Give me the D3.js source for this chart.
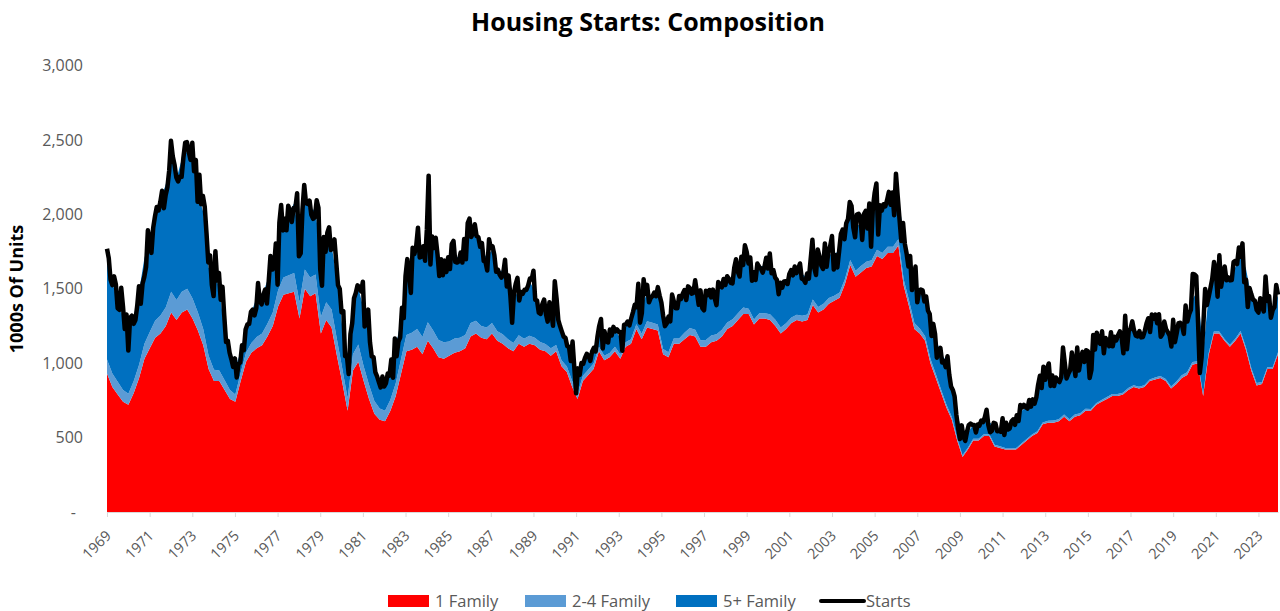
<!DOCTYPE html>
<html>

<head>
  <meta charset="UTF-8">
  <title>Housing Starts: Composition</title>
  <style type="text/css">
    body {
      margin: 0;
      background: #fff;
    }

    text {
      font-family: "Open Sans", "Liberation Sans", sans-serif;
    }

    .starts {
      fill: none;
      stroke: #000;
      stroke-width: 4.5px;
      stroke-linejoin: round;
    }
  </style>
</head>

<body>
  <div class="chart"></div>
  <script src="https://cdn.jsdelivr.net/npm/d3@7/dist/d3.min.js"></script>
  <script type="text/javascript">
    // total starts, monthly, Jan 1969 - Dec 2023 (thousands, SAAR)
    var starts = [
      1769, 1705, 1561, 1524, 1583, 1528, 1368, 1358, 1507, 1381, 1229, 1327,
      1085, 1305, 1319, 1264, 1290, 1385, 1517, 1399, 1534, 1580, 1647, 1893,
      1828, 1741, 1910, 1986, 2049, 2026, 2083, 2158, 2041, 2128, 2182, 2295,
      2494, 2390, 2334, 2249, 2221, 2254, 2252, 2382, 2481, 2485, 2421, 2366,
      2481, 2289, 2365, 2084, 2266, 2067, 2123, 2051, 1874, 1677, 1724, 1526,
      1451, 1752, 1555, 1607, 1426, 1513, 1316, 1142, 1150, 1070, 1026, 975,
      1032, 904, 993, 1005, 1121, 1087, 1226, 1260, 1264, 1344, 1360, 1321,
      1367, 1538, 1421, 1395, 1459, 1495, 1401, 1550, 1720, 1629, 1641, 1804,
      1527, 1943, 2063, 1892, 1971, 1893, 2058, 2020, 1949, 2042, 2042, 2142,
      1718, 1738, 2032, 2197, 2075, 2070, 2092, 1996, 1970, 1981, 2094, 2044,
      1630, 1520, 1847, 1748, 1876, 1913, 1760, 1778, 1832, 1681, 1524, 1498,
      1341, 1350, 1047, 1051, 927, 1196, 1269, 1436, 1471, 1523, 1510, 1482,
      1547, 1246, 1306, 1360, 1140, 1045, 1041, 940, 911, 873, 837, 910,
      843, 866, 931, 917, 1025, 902, 1166, 1046, 1144, 1173, 1372, 1303,
      1586, 1699, 1606, 1472, 1776, 1733, 1785, 1910, 1710, 1715, 1785, 1688,
      1897, 2260, 1663, 1851, 1774, 1843, 1732, 1586, 1698, 1590, 1689, 1612,
      1711, 1632, 1800, 1821, 1680, 1676, 1684, 1743, 1676, 1834, 1698, 1942,
      1972, 1848, 1876, 1933, 1854, 1847, 1782, 1807, 1687, 1681, 1623, 1833,
      1774, 1784, 1726, 1614, 1628, 1594, 1575, 1605, 1695, 1515, 1589, 1454,
      1271, 1473, 1532, 1573, 1421, 1478, 1467, 1493, 1492, 1522, 1569, 1563,
      1621, 1425, 1422, 1339, 1331, 1397, 1427, 1332, 1279, 1410, 1351, 1251,
      1551, 1437, 1289, 1248, 1212, 1177, 1171, 1115, 1110, 1014, 1145, 969,
      798, 965, 921, 1001, 996, 1036, 1063, 1049, 1015, 1079, 1103, 1079,
      1176, 1250, 1297, 1099, 1214, 1145, 1139, 1226, 1186, 1244, 1214, 1227,
      1210, 1210, 1083, 1258, 1260, 1280, 1254, 1300, 1343, 1392, 1376, 1533,
      1272, 1337, 1564, 1465, 1526, 1409, 1439, 1450, 1474, 1450, 1511, 1455,
      1407, 1316, 1249, 1267, 1314, 1281, 1461, 1416, 1369, 1369, 1452, 1431,
      1467, 1491, 1424, 1516, 1504, 1467, 1472, 1557, 1475, 1392, 1489, 1370,
      1355, 1486, 1457, 1492, 1442, 1494, 1437, 1390, 1546, 1520, 1510, 1566,
      1525, 1584, 1567, 1540, 1536, 1641, 1698, 1614, 1582, 1715, 1660, 1792,
      1748, 1670, 1710, 1553, 1611, 1559, 1669, 1648, 1635, 1608, 1648, 1708,
      1636, 1737, 1604, 1626, 1575, 1559, 1463, 1541, 1507, 1549, 1551, 1532,
      1600, 1625, 1590, 1649, 1605, 1636, 1670, 1567, 1562, 1540, 1602, 1568,
      1698, 1829, 1642, 1592, 1764, 1717, 1655, 1633, 1804, 1648, 1753, 1788,
      1854, 1629, 1726, 1643, 1751, 1867, 1897, 1833, 1939, 1967, 2083, 2057,
      1911, 1846, 1998, 2003, 1981, 1828, 2002, 2024, 1905, 2072, 1782, 2042,
      2144, 2207, 1864, 2061, 2025, 2068, 2054, 2095, 2151, 2065, 2147, 1994,
      2273, 2119, 1969, 1821, 1942, 1802, 1737, 1650, 1720, 1491, 1570, 1649,
      1409, 1480, 1495, 1490, 1415, 1448, 1354, 1330, 1183, 1264, 1197, 1037,
      1084, 1103, 1005, 1013, 973, 1046, 923, 844, 820, 777, 652, 560,
      490, 582, 505, 478, 540, 585, 594, 586, 585, 534, 588, 581,
      614, 604, 636, 687, 583, 536, 546, 599, 594, 543, 545, 539,
      630, 517, 600, 554, 561, 608, 623, 585, 650, 611, 719, 703,
      720, 704, 695, 753, 708, 757, 728, 770, 854, 915, 833, 976,
      888, 962, 998, 847, 917, 847, 904, 883, 873, 905, 1105, 1003,
      897, 928, 953, 1071, 1001, 914, 1105, 951, 1031, 1076, 1008, 1087,
      1080, 900, 954, 1190, 1091, 1205, 1146, 1130, 1214, 1066, 1169, 1148,
      1114, 1208, 1113, 1177, 1153, 1188, 1214, 1172, 1066, 1318, 1094, 1216,
      1233, 1281, 1219, 1185, 1180, 1215, 1173, 1176, 1216, 1266, 1302, 1210,
      1327, 1299, 1326, 1268, 1329, 1177, 1196, 1280, 1229, 1209, 1187, 1112,
      1291, 1141, 1203, 1269, 1271, 1255, 1197, 1387, 1280, 1329, 1359, 1599,
      1596, 1585, 1275, 934, 1038, 1263, 1499, 1390, 1446, 1506, 1568, 1680,
      1625, 1447, 1725, 1514, 1594, 1650, 1557, 1576, 1556, 1559, 1679, 1688,
      1666, 1777, 1716, 1805, 1543, 1561, 1377, 1505, 1463, 1426, 1419, 1357,
      1340, 1436, 1380, 1348, 1583, 1418, 1451, 1305, 1356, 1376, 1525, 1460
    ];

    // components, quarterly, 1969Q1 - 2023Q4
    var oneFamily = [
      930, 840, 790, 740, 720, 800, 900, 1030, 1100, 1170, 1200, 1250,
      1340, 1290, 1340, 1360, 1300, 1220, 1120, 960, 880, 880, 820, 760,
      740, 880, 1010, 1070, 1100, 1120, 1180, 1250, 1380, 1460, 1470, 1480,
      1300, 1500, 1450, 1470, 1200, 1290, 1240, 1050, 870, 680, 950, 1010,
      880, 760, 660, 620, 610, 680, 780, 930, 1080, 1090, 1110, 1060,
      1150, 1100, 1040, 1030, 1050, 1070, 1080, 1100, 1180, 1200, 1170, 1160,
      1200, 1150, 1130, 1100, 1080, 1130, 1110, 1130, 1120, 1090, 1080, 1050,
      1080, 980, 940, 840, 760, 880, 920, 960, 1080, 1020, 1040, 1080,
      1030, 1110, 1130, 1230, 1160, 1240, 1230, 1220, 1060, 1040, 1130, 1130,
      1160, 1190, 1180, 1110, 1110, 1140, 1150, 1180, 1230, 1250, 1290, 1330,
      1330, 1260, 1300, 1300, 1290, 1250, 1200, 1230, 1270, 1290, 1280, 1290,
      1390, 1340, 1360, 1400, 1420, 1440, 1530, 1660, 1580, 1610, 1640, 1650,
      1720, 1700, 1740, 1740, 1790, 1520, 1380, 1230, 1200, 1150, 1000, 900,
      800, 700, 620, 480, 370, 420, 480, 480, 510, 510, 440, 430,
      420, 420, 420, 450, 480, 510, 530, 590, 600, 600, 610, 640,
      610, 640, 650, 680, 680, 720, 740, 760, 780, 780, 790, 820,
      840, 830, 840, 880, 890, 900, 880, 830, 860, 900, 920, 990,
      1000, 780, 1050, 1200, 1200, 1150, 1110, 1150, 1200, 1090, 950, 850,
      860, 960, 960, 1060
    ];
    var twoToFour = [
      95, 90, 85, 80, 75, 80, 90, 100, 110, 115, 120, 125,
      140, 135, 140, 140, 135, 120, 110, 90, 75, 70, 65, 60,
      50, 55, 60, 65, 75, 80, 85, 90, 110, 115, 120, 125,
      110, 130, 125, 125, 110, 120, 120, 110, 95, 85, 110, 115,
      100, 95, 85, 75, 70, 75, 85, 100, 110, 115, 120, 115,
      125, 120, 115, 110, 95, 95, 90, 90, 90, 85, 80, 80,
      70, 65, 65, 60, 55, 57, 54, 55, 50, 52, 49, 50,
      42, 40, 38, 40, 34, 36, 35, 37, 31, 30, 29, 30,
      29, 31, 30, 32, 38, 41, 42, 40, 36, 34, 35, 35,
      44, 46, 45, 44, 45, 46, 44, 45, 43, 45, 46, 44,
      36, 34, 35, 35, 39, 41, 40, 38, 37, 36, 38, 37,
      38, 37, 39, 38, 33, 35, 34, 34, 41, 43, 42, 42,
      42, 41, 43, 42, 43, 42, 41, 40, 33, 31, 30, 28,
      22, 20, 19, 17, 12, 11, 12, 12, 12, 13, 12, 11,
      10, 10, 9, 11, 11, 11, 12, 11, 13, 14, 14, 15,
      14, 15, 13, 14, 12, 11, 12, 12, 12, 12, 11, 13,
      11, 11, 12, 11, 13, 13, 14, 13, 17, 18, 19, 18,
      13, 11, 12, 13, 13, 12, 13, 14, 16, 17, 18, 17,
      14, 13, 12, 13
    ];
    var fivePlus = [
      653, 615, 536, 492, 441, 433, 493, 577, 616, 735, 774, 827,
      926, 816, 892, 924, 943, 799, 786, 592, 631, 565, 318, 204,
      186, 136, 180, 207, 267, 250, 292, 351, 354, 344, 419, 470,
      419, 484, 444, 445, 356, 436, 430, 408, 281, 293, 332, 380,
      386, 327, 219, 178, 200, 193, 254, 253, 440, 455, 572, 554,
      665, 603, 517, 490, 569, 561, 531, 635, 629, 593, 509, 472,
      491, 397, 430, 359, 290, 306, 319, 366, 319, 216, 216, 237,
      306, 192, 152, 163, 100, 96, 87, 92, 131, 103, 114, 118,
      108, 126, 139, 174, 191, 187, 184, 212, 229, 212, 250, 252,
      256, 261, 276, 262, 278, 291, 263, 307, 284, 277, 296, 347,
      344, 279, 316, 320, 329, 297, 264, 274, 298, 303, 283, 243,
      295, 313, 299, 292, 282, 280, 326, 342, 296, 285, 295, 273,
      310, 309, 318, 287, 288, 293, 280, 298, 231, 271, 259, 236,
      244, 291, 222, 163, 144, 102, 96, 76, 96, 80, 128, 100,
      152, 144, 189, 218, 215, 218, 243, 307, 335, 256, 263, 350,
      302, 341, 365, 363, 286, 430, 411, 356, 353, 381, 349, 377,
      393, 352, 337, 368, 414, 345, 342, 326, 334, 347, 350, 421,
      473, 286, 383, 373, 386, 423, 440, 479, 503, 529, 481, 534,
      512, 477, 398, 381
    ];

    var tickYears = [1969, 1971, 1973, 1975, 1977, 1979, 1981, 1983, 1985, 1987,
      1989, 1991, 1993, 1995, 1997, 1999, 2001, 2003, 2005, 2007, 2009,
      2011, 2013, 2015, 2017, 2019, 2021, 2023];
    var yTicks = [0, 500, 1000, 1500, 2000, 2500, 3000];

    var seriesNames = ["1 Family", "2-4 Family", "5+ Family"];
    var colors = ["#ff0000", "#5b9bd5", "#0070c0"];

    var width = 1280,
      height = 611,
      firstYear = 1969;

    var x = d3.scaleLinear()
      .domain([0, starts.length - 1])
      .range([107, 1278]);
    // quarterly points spread across the same span
    var xq = d3.scaleLinear()
      .domain([0, oneFamily.length - 1])
      .range(x.range());
    var y = d3.scaleLinear()
      .domain([0, 3000])
      .range([512, 65.5]);

    var svg = d3.select(".chart").append("svg")
      .attr("width", width)
      .attr("height", height);

    var rows = oneFamily.map(function (d, i) {
      return { q: i, one: d, two: twoToFour[i], five: fivePlus[i] };
    });
    var layers = d3.stack().keys(["one", "two", "five"])(rows);

    var area = d3.area()
      .x(function (d) { return xq(d.data.q); })
      .y0(function (d) { return y(d[0]); })
      .y1(function (d) { return y(d[1]); });

    svg.selectAll(".layer")
      .data(layers)
      .enter().append("path")
      .attr("class", "layer")
      .attr("fill", function (d, i) { return colors[i]; })
      .attr("d", area);

    var line = d3.line()
      .x(function (d, i) { return x(i); })
      .y(function (d) { return y(d); });

    svg.append("path")
      .datum(starts)
      .attr("class", "starts")
      .attr("d", line);

    // x axis
    var xAxis = d3.axisBottom(x)
      .tickValues(tickYears.map(function (yr) { return (yr - firstYear) * 12; }))
      .tickFormat(function (d) { return firstYear + d / 12; })
      .tickSize(5)
      .tickSizeOuter(0);

    var gx = svg.append("g")
      .attr("transform", "translate(0,512)")
      .call(xAxis);
    gx.select(".domain").attr("stroke", "#d9d9d9");
    gx.selectAll(".tick line").attr("stroke", "#d9d9d9");
    gx.selectAll(".tick text")
      .attr("x", 1)
      .attr("y", 21)
      .attr("dy", "0.35em")
      .attr("transform", "rotate(-45 1 21)")
      .attr("text-anchor", "end")
      .attr("fill", "#595959")
      .style("font-size", "14.5px");

    // y axis
    var yAxis = d3.axisLeft(y)
      .tickValues(yTicks)
      .tickFormat(function (d) { return d === 0 ? "-" : d3.format(",")(d); })
      .tickSize(0)
      .tickPadding(7);

    var gy = svg.append("g")
      .attr("transform", "translate(90,0)")
      .call(yAxis);
    gy.select(".domain").remove();
    gy.selectAll(".tick text")
      .attr("fill", "#595959")
      .style("font-size", "16px");
    gy.selectAll(".tick text")
      .filter(function (d) { return d === 0; })
      .attr("dx", "-7");

    svg.append("text")
      .attr("transform", "translate(23,289) rotate(-90)")
      .attr("text-anchor", "middle")
      .style("font-size", "18px")
      .style("font-weight", "bold")
      .text("1000s Of Units");

    svg.append("text")
      .attr("x", 648)
      .attr("y", 31)
      .attr("text-anchor", "middle")
      .style("font-size", "25px")
      .style("font-weight", "bold")
      .text("Housing Starts: Composition");

    // legend
    var legendX = [388, 525, 676];
    var legend = svg.append("g");
    seriesNames.forEach(function (name, i) {
      legend.append("rect")
        .attr("x", legendX[i])
        .attr("y", 595)
        .attr("width", 41)
        .attr("height", 12)
        .attr("fill", colors[i]);
      legend.append("text")
        .attr("x", legendX[i] + 47)
        .attr("y", 601)
        .attr("dy", "0.35em")
        .attr("fill", "#595959")
        .style("font-size", "16.5px")
        .text(name);
    });
    legend.append("line")
      .attr("x1", 821)
      .attr("x2", 864)
      .attr("y1", 601)
      .attr("y2", 601)
      .attr("stroke", "#000")
      .attr("stroke-width", 4)
      .attr("stroke-linecap", "round");
    legend.append("text")
      .attr("x", 866)
      .attr("y", 601)
      .attr("dy", "0.35em")
      .attr("fill", "#595959")
      .style("font-size", "16.5px")
      .text("Starts");
  </script>
</body>

</html>
